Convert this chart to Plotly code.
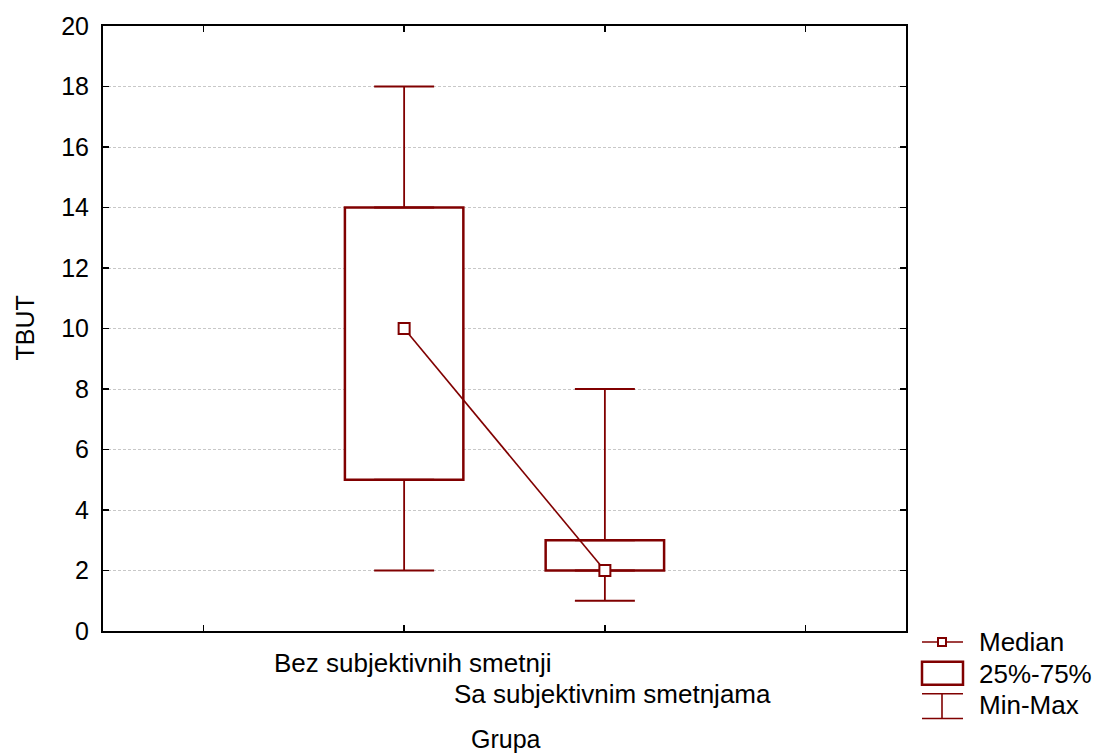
import plotly.graph_objects as go

# ---- data ----
categories = ["Bez subjektivnih smetnji", "Sa subjektivnim smetnjama"]
cat_pos = [2, 3]
q_min = [2, 1]
q1 = [5, 2]
median = [10, 2]
q3 = [14, 3]
q_max = [18, 8]
y_ticks = list(range(0, 21, 2))
legend_labels = ["Median", "25%-75%", "Min-Max"]

RED = "#800000"
FONT = "Liberation Sans, Arial, sans-serif"
FS = 25

W, H = 1099, 755
L, R, T, B = 103, 906, 23, 631


def px(x):
    return (x - L) / (R - L)


def py(y):
    return (B - y) / (B - T)


fig = go.Figure()

# boxes (25%-75%)
fig.add_trace(go.Bar(
    x=cat_pos, y=[b - a for a, b in zip(q1, q3)], base=q1, width=0.59,
    marker=dict(color="white", line=dict(color=RED, width=2.5)),
    showlegend=False, hoverinfo="skip"))

# upper whiskers
fig.add_trace(go.Scatter(
    x=cat_pos, y=q3, mode="markers", marker=dict(size=1, opacity=0),
    error_y=dict(type="data", symmetric=False,
                 array=[m - q for m, q in zip(q_max, q3)],
                 arrayminus=[0, 0], color=RED, thickness=1.8, width=30),
    showlegend=False, hoverinfo="skip"))

# lower whiskers
fig.add_trace(go.Scatter(
    x=cat_pos, y=q1, mode="markers", marker=dict(size=1, opacity=0),
    error_y=dict(type="data", symmetric=False,
                 array=[0, 0],
                 arrayminus=[q - m for q, m in zip(q1, q_min)],
                 color=RED, thickness=1.8, width=30),
    showlegend=False, hoverinfo="skip"))

# medians
fig.add_trace(go.Scatter(
    x=cat_pos, y=median, mode="lines+markers",
    line=dict(color=RED, width=1.6),
    marker=dict(symbol="square", size=11, color="white",
                line=dict(color=RED, width=2)),
    showlegend=False))

annotations = []
# category labels (staggered)
label_y = [663, 694]
for i, (c, p) in enumerate(zip(categories, cat_pos)):
    annotations.append(dict(x=p, y=py(label_y[i]), xref="x", yref="paper",
                            text=c, showarrow=False, xanchor="center",
                            yanchor="middle", xshift=8,
                            font=dict(family=FONT, size=FS + 1, color="black")))
# axis titles
annotations.append(dict(x=px(506), y=py(740), xref="paper", yref="paper",
                        text="Grupa", showarrow=False, xanchor="center",
                        yanchor="middle",
                        font=dict(family=FONT, size=FS, color="black")))
annotations.append(dict(x=px(24), y=py(327), xref="paper", yref="paper",
                        text="TBUT", showarrow=False, xanchor="center",
                        yanchor="middle", textangle=-90,
                        font=dict(family=FONT, size=FS, color="black")))

# legend (custom glyphs)
shapes = []
gx0, gx1, gxc = 922, 963, 942
# Median glyph
shapes.append(dict(type="line", xref="paper", yref="paper",
                   x0=px(gx0), x1=px(gx1), y0=py(642), y1=py(642),
                   line=dict(color=RED, width=1.6)))
shapes.append(dict(type="rect", xref="paper", yref="paper",
                   x0=px(gxc - 4), x1=px(gxc + 4), y0=py(638), y1=py(646),
                   fillcolor="white", line=dict(color=RED, width=2)))
# Box glyph
shapes.append(dict(type="rect", xref="paper", yref="paper",
                   x0=px(gx0), x1=px(gx1), y0=py(662), y1=py(685),
                   fillcolor="white", line=dict(color=RED, width=2.5)))
# Min-Max glyph
for yy in (694, 719):
    shapes.append(dict(type="line", xref="paper", yref="paper",
                       x0=px(gx0), x1=px(gx1), y0=py(yy), y1=py(yy),
                       line=dict(color=RED, width=1.6)))
shapes.append(dict(type="line", xref="paper", yref="paper",
                   x0=px(gxc), x1=px(gxc), y0=py(694), y1=py(719),
                   line=dict(color=RED, width=1.6)))
for lbl, yy in zip(legend_labels, (642, 674, 705)):
    annotations.append(dict(x=px(977), y=py(yy), xref="paper", yref="paper",
                            text=lbl, showarrow=False, xanchor="left",
                            yanchor="middle",
                            font=dict(family=FONT, size=FS + 1, color="black")))

fig.update_layout(
    width=W, height=H,
    margin=dict(l=L, r=W - R, t=T, b=H - B, pad=0),
    paper_bgcolor="white", plot_bgcolor="white",
    font=dict(family=FONT, size=FS, color="black"),
    showlegend=False,
    bargap=0,
    annotations=annotations,
    shapes=shapes,
    xaxis=dict(range=[0.5, 4.5], tickvals=[1, 2, 3, 4],
               ticktext=["", "", "", ""], ticks="inside", ticklen=6,
               tickwidth=1.5, tickcolor="black",
               showline=True, linecolor="black", linewidth=2,
               mirror="ticks", showgrid=False, zeroline=False,
               fixedrange=True),
    yaxis=dict(range=[0, 20], tickvals=y_ticks, ticks="inside", ticklen=6,
               tickwidth=1.5, tickcolor="black",
               showline=True, linecolor="black", linewidth=2,
               mirror="ticks", showgrid=True, gridcolor="#c8c8c8",
               gridwidth=1, griddash="3px,2px", zeroline=False,
               ticklabelstandoff=7,
               tickfont=dict(family=FONT, size=FS, color="black"),
               fixedrange=True),
)

fig.write_html("out.html",
               config={"displayModeBar": False, "staticPlot": True},
               post_script="document.body.style.margin='0';"
                           "document.body.style.padding='0';")
